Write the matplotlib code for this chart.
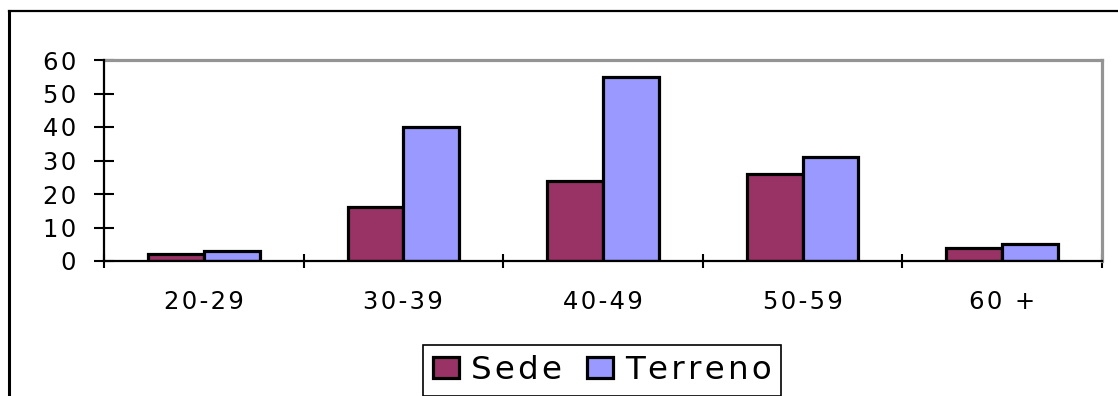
import matplotlib
matplotlib.use("Agg")
import matplotlib.pyplot as plt
import numpy as np
from matplotlib.lines import Line2D
from matplotlib.ticker import FixedLocator

fasce = ["20-29", "30-39", "40-49", "50-59", "60 +"]
sede = [2, 16, 24, 26, 4]
terreno = [3, 40, 55, 31, 5]
yticks = [0, 10, 20, 30, 40, 50, 60]

col_sede = "#993366"
col_terreno = "#9999FF"
HS = "\u200a"  # hair space for the wide letter spacing


def spaced(s):
    return HS.join(s)


plt.rcParams["font.family"] = ["DejaVu Sans"]

fig = plt.figure(figsize=(11.18, 3.96), dpi=100)
W, H = 1118, 396
ax = fig.add_axes([104 / W, (H - 261) / H, (1102 - 104) / W, (261 - 60) / H])

x = np.arange(len(fasce))
w = 0.28
ax.bar(x - w / 2, sede, w, color=col_sede, edgecolor="black", linewidth=2.3,
       label="Sede", zorder=3)
ax.bar(x + w / 2, terreno, w, color=col_terreno, edgecolor="black", linewidth=2.3,
       label="Terreno", zorder=3)

ax.set_xlim(-0.5, len(fasce) - 0.5)
ax.set_ylim(0, 60)

ax.set_yticks(yticks)
ax.set_yticklabels([spaced(str(v)) for v in yticks], fontsize=17.5)
ax.tick_params(axis="y", direction="inout", length=14, width=1.5, pad=13)

ax.set_xticks(x)
ax.set_xticklabels([spaced(f) for f in fasce], fontsize=17.5)
ax.tick_params(axis="x", which="major", length=0, pad=21)
ax.xaxis.set_minor_locator(FixedLocator(np.arange(-0.5, len(fasce), 1.0)))
ax.tick_params(axis="x", which="minor", direction="inout", length=10, width=1.5)

for s in ["left", "bottom"]:
    ax.spines[s].set_color("black")
    ax.spines[s].set_linewidth(1.6)
    ax.spines[s].set_zorder(4)
for s in ["top", "right"]:
    ax.spines[s].set_color("#949494")
    ax.spines[s].set_linewidth(2.3)

leg = ax.legend(loc="center", bbox_to_anchor=(602 / W, 25.5 / H),
                bbox_transform=fig.transFigure, ncol=2, fancybox=False,
                edgecolor="black", framealpha=1, prop={"size": 23.4},
                handlelength=0.8, handleheight=0.65, handletextpad=0.37,
                columnspacing=0.77, borderpad=0.3, borderaxespad=0)
leg.get_frame().set_linewidth(1.2)
for t in leg.get_texts():
    t.set_text(spaced(t.get_text()))
for p in leg.get_patches():
    p.set_linewidth(2.3)

# outer chart frame (top and left edges)
fig.add_artist(Line2D([9 / W, 1.0], [1 - 11 / H, 1 - 11 / H],
                      transform=fig.transFigure, color="black", lw=1.6))
fig.add_artist(Line2D([9 / W, 9 / W], [0, 1 - 11 / H],
                      transform=fig.transFigure, color="black", lw=2.2))

fig.savefig("out.png", dpi=100)
